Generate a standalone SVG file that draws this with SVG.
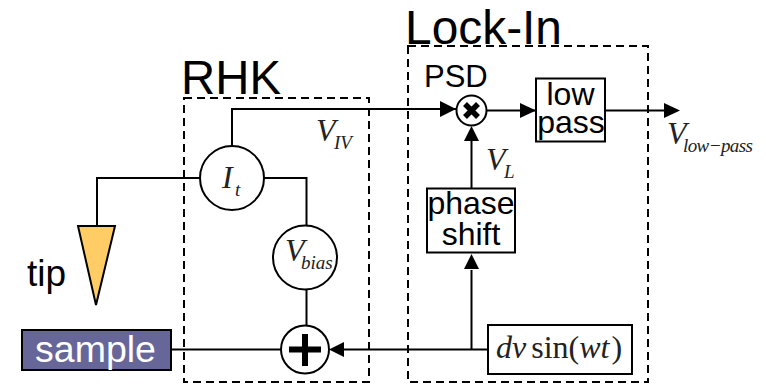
<svg xmlns="http://www.w3.org/2000/svg" width="766" height="385" viewBox="0 0 766 385">
<style>
.s{font-family:"Liberation Sans",Arial,sans-serif;fill:#000}
.m{font-family:"Liberation Serif","Times New Roman",serif;fill:#222;font-style:italic}
.w{fill:none;stroke:#000;stroke-width:2}
.b{fill:#fff;stroke:#000;stroke-width:2}
.d{fill:none;stroke:#000;stroke-width:2;stroke-dasharray:8 5}
.a{fill:#000;stroke:none}
</style>
<rect width="766" height="385" fill="#fff"/>
<g id="connectors">
<path class="w" d="M232 145V109H456"/>
<path class="w" d="M200 178H97V226"/>
<path class="w" d="M264 178H306.500V226"/>
<path class="w" d="M306.500 289V325"/>
<path class="w" d="M171 349.500H282"/>
<path class="w" d="M488 349.500H340"/>
<path class="w" d="M471.500 349V270"/>
<path class="w" d="M471.500 188V140"/>
<path class="w" d="M487 110.500H535"/>
<path class="w" d="M605 110.500H670"/>
<polygon class="a" points="329,349.500 344,342 344,357"/>
<polygon class="a" points="456,109 440,101 440,117"/>
<polygon class="a" points="536,110.500 520,103 520,118"/>
<polygon class="a" points="680,110.500 664,103 664,118"/>
<polygon class="a" points="471.500,126 464,141 479,141"/>
<polygon class="a" points="471.500,254 464,269 479,269"/>
</g>
<g id="rhk-box"><rect class="d" x="184" y="98" width="185" height="284"/>
<text class="s" x="181" y="94" font-size="48" textLength="100" lengthAdjust="spacingAndGlyphs">RHK</text></g>
<g id="lockin-box"><rect class="d" x="408" y="46" width="240" height="336"/>
<text class="s" x="405" y="44" font-size="48" textLength="157" lengthAdjust="spacingAndGlyphs">Lock-In</text></g>
<g id="v-iv"><text class="m" x="316" y="141" font-size="32">V</text><text class="m" x="334" y="149" font-size="19">IV</text></g>
<g id="it"><circle class="b" cx="232" cy="178" r="32"/><text class="m" x="222" y="188" font-size="32">I</text><text class="m" x="235" y="196" font-size="19">t</text></g>
<g id="vbias"><circle class="b" cx="305" cy="257.500" r="32"/><text class="m" x="285" y="261" font-size="32">V</text><text class="m" x="301" y="269" font-size="19">bias</text></g>
<g id="tip"><polygon points="78,226 115,226 96,305" fill="#fc6" stroke="#000" stroke-width="2"/>
<text class="s" x="27" y="286" font-size="37">tip</text></g>
<g id="sample"><rect x="22" y="330" width="149" height="40" fill="#669" stroke="#000" stroke-width="2"/>
<text class="s" x="95.500" y="362" font-size="37.500" text-anchor="middle" style="fill:#fff">sample</text></g>
<g id="adder"><circle class="b" cx="305" cy="349.500" r="24"/><path d="M289 349.500H321M305 334V366" fill="none" stroke="#000" stroke-width="6"/></g>
<g id="psd"><text class="s" x="424" y="87" font-size="31">PSD</text><circle class="b" cx="471.500" cy="110.500" r="15"/><path d="M465 104L478 117M478 104L465 117" fill="none" stroke="#000" stroke-width="5.500"/></g>
<g id="lowpass"><rect class="b" x="536" y="78.500" width="69" height="63"/>
<text class="s" x="570.500" y="105" font-size="32" text-anchor="middle">low</text><text class="s" x="571" y="133" font-size="32" text-anchor="middle">pass</text></g>
<g id="v-low-pass"><text class="m" x="667" y="144" font-size="32">V</text><text class="m" x="683" y="152" font-size="19" textLength="70" lengthAdjust="spacing">low−pass</text></g>
<g id="v-l"><text class="m" x="486" y="170" font-size="32">V</text><text class="m" x="504" y="178" font-size="19">L</text></g>
<g id="phase"><rect class="b" x="427" y="188.500" width="88" height="64"/>
<text class="s" x="471" y="214" font-size="32" text-anchor="middle">phase</text><text class="s" x="471" y="245" font-size="32" text-anchor="middle">shift</text></g>
<g id="source"><rect class="b" x="488" y="325" width="144" height="49"/>
<text x="496" y="358" font-size="32" font-family="'Liberation Serif',serif" fill="#222"><tspan font-style="italic">dv</tspan><tspan dx="5">sin(</tspan><tspan font-style="italic">wt</tspan><tspan dx="2">)</tspan></text></g>
</svg>
